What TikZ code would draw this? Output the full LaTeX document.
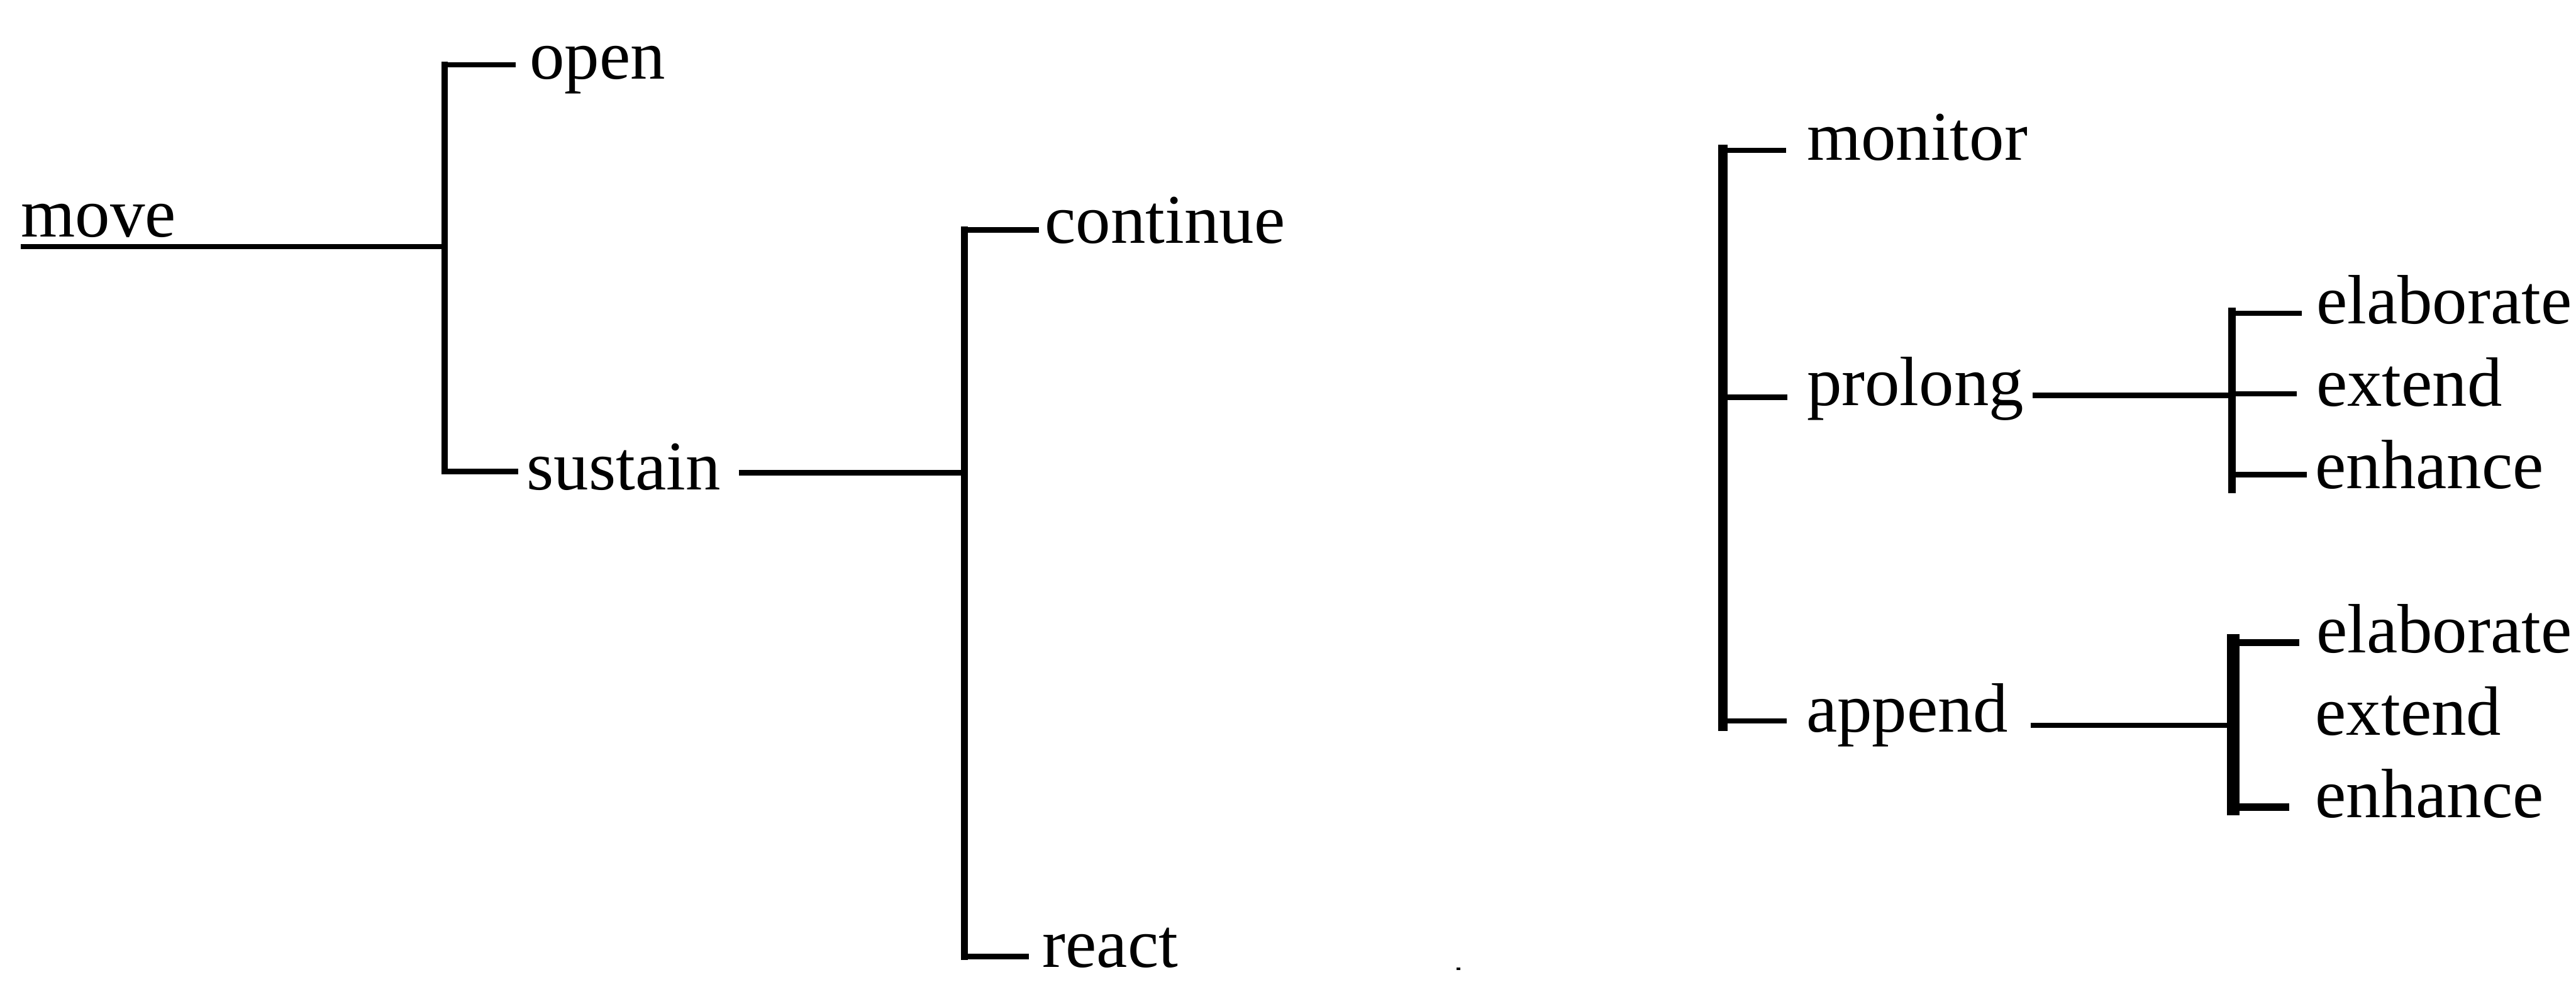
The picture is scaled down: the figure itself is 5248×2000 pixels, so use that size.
\documentclass[tikz,border=0pt]{standalone}
\usepackage{fontspec}
\setmainfont{Liberation Serif}
\begin{document}
\begin{tikzpicture}[x=0.01cm,y=-0.01cm,
  lbl/.style={anchor=base west,inner sep=0pt,outer sep=0pt,
              font=\fontsize{40.4}{48}\selectfont},
  hline/.style={line width=3.1pt},
  vline/.style={line width=3.8pt,line cap=rect},
  vbold/.style={line width=5.2pt,line cap=rect},
  vheavy/.style={line width=7.4pt,line cap=rect},
  hbold/.style={line width=4.2pt}]
\useasboundingbox (0,0) rectangle (5248,2000);

% ---------- labels ----------
\node[lbl] (move)     at (43,483)   {move};
\node[lbl] (open)     at (1079,161) {open};
\node[lbl] (sustain)  at (1073,997) {sustain};
\node[lbl] (continue) at (2129,495) {continue};
\node[lbl] (react)    at (2124,1970){react};
\node[lbl] (monitor)  at (3681,326) {monitor};
\node[lbl] (prolong)  at (3681,826) {prolong};
\node[lbl] (append)   at (3680,1491){append};
\node[lbl] (elabA)    at (4719,659) {elaborate};
\node[lbl] (extA)     at (4719,827) {extend};
\node[lbl] (enhA)     at (4717,995) {enhance};
\node[lbl] (elabB)    at (4719,1329){elaborate};
\node[lbl] (extB)     at (4717,1497){extend};
\node[lbl] (enhB)     at (4717,1665){enhance};

% ---------- junction points ----------
\coordinate (moveStart)  at (42,502);
\coordinate (jMove)      at (906,502);
\coordinate (jMoveT)     at (906,132);
\coordinate (jMoveB)     at (906,960);
\coordinate (openEnd)    at (1051,132);
\coordinate (sustainEnd) at (1056,960);
\coordinate (sustainOut) at (1505,963);
\coordinate (jSus)       at (1965,963);
\coordinate (jSusT)      at (1965,468);
\coordinate (jSusB)      at (1965,1948);
\coordinate (contEnd)    at (2117,468);
\coordinate (reactEnd)   at (2096,1948);

\coordinate (jRT)        at (3510,304);
\coordinate (jRB)        at (3510,1480);
\coordinate (monEnd)     at (3639,306);
\coordinate (proEnd)     at (3641,809);
\coordinate (appEnd)     at (3640,1468);

\coordinate (proOut)     at (4141,805);
\coordinate (jPro)       at (4547,805);
\coordinate (jProT)      at (4547,634);
\coordinate (jProB)      at (4547,997);
\coordinate (elabAEnd)   at (4689,638);
\coordinate (extAEnd)    at (4679,802);
\coordinate (enhAEnd)    at (4699,967);

\coordinate (appOut)     at (4137,1477);
\coordinate (jApp)       at (4538,1477);
\coordinate (jAppT)      at (4550,1305);
\coordinate (jAppB)      at (4550,1648);
\coordinate (elabBEnd)   at (4684,1309);
\coordinate (enhBEnd)    at (4664,1644);

% ---------- move -> open / sustain ----------
\draw[hline] (moveStart) -- (jMove);
\draw[vline] (jMoveT) -- (jMoveB);
\draw[hline] (jMoveT) -- (openEnd);
\draw[hline] (jMoveB) -- (sustainEnd);

% ---------- sustain -> continue / react ----------
\draw[hline] (sustainOut) -- (jSus);
\draw[vline] (jSusT) -- (jSusB);
\draw[hline] (jSusT) -- (contEnd);
\draw[hline] (jSusB) -- (reactEnd);

% ---------- monitor / prolong / append ----------
\draw[vbold] (jRT) -- (jRB);
\draw[hline] (jRT |- monEnd) -- (monEnd);
\draw[hline] (jRT |- proEnd) -- (proEnd);
\draw[hline] (jRT |- appEnd) -- (appEnd);

% ---------- prolong -> elaborate / extend / enhance ----------
\draw[hline] (proOut) -- (jPro);
\draw[vline,line width=4.6pt] (jProT) -- (jProB);
\draw[hline] (jProT |- elabAEnd) -- (elabAEnd);
\draw[hline] (jProT |- extAEnd) -- (extAEnd);
\draw[hline] (jProT |- enhAEnd) -- (enhAEnd);

% ---------- append -> elaborate / extend / enhance ----------
\draw[hline] (appOut) -- (jApp);
\draw[vheavy] (jAppT) -- (jAppB);
\draw[hbold] (jAppT |- elabBEnd) -- (elabBEnd);
\draw[hbold] (jAppT |- enhBEnd) -- (enhBEnd);

% stray speck below the tree
\fill (2967,1970) rectangle (2975,1976);
\end{tikzpicture}
\end{document}
